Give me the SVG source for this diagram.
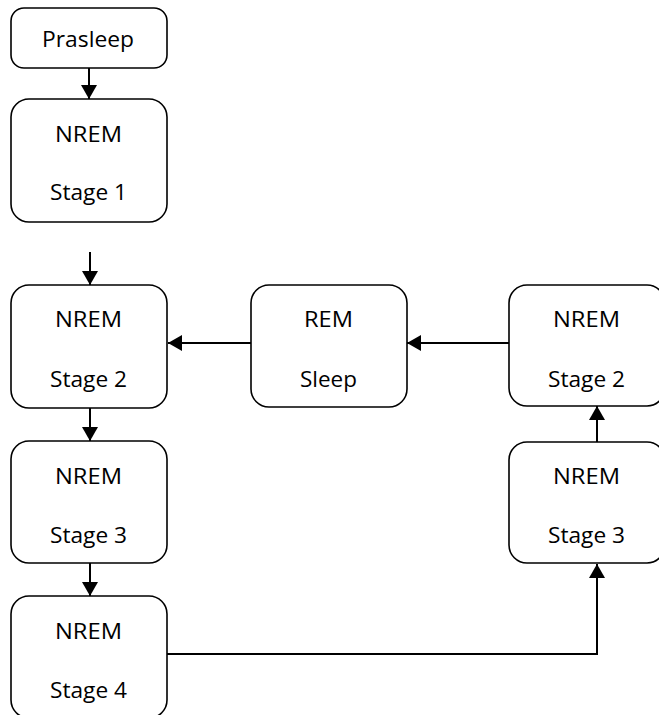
<svg xmlns="http://www.w3.org/2000/svg" width="659" height="715" viewBox="0 0 659 715">
<defs>
<style>
.box{fill:#fff;stroke:#000;stroke-width:1.6}
.t{font-family:"Open Sans","Liberation Sans",sans-serif;font-size:21.5px;fill:#000;text-anchor:middle}
.c{fill:none;stroke:#000;stroke-width:2}
</style>
<marker id="ah" markerUnits="userSpaceOnUse" markerWidth="16" markerHeight="16" viewBox="0 0 14 16" refX="14" refY="8" orient="auto">
<path d="M0,0 L14,8 L0,16 Z" fill="#000"/>
</marker>
</defs>
<rect width="659" height="715" fill="#fff"/>
<g id="connectors">
<line class="c" x1="89" y1="68" x2="89" y2="99" marker-end="url(#ah)"/>
<line class="c" x1="90" y1="252" x2="90" y2="285" marker-end="url(#ah)"/>
<line class="c" x1="90" y1="408" x2="90" y2="441" marker-end="url(#ah)"/>
<line class="c" x1="90" y1="563" x2="90" y2="596" marker-end="url(#ah)"/>
<line class="c" x1="251" y1="343" x2="168" y2="343" marker-end="url(#ah)"/>
<line class="c" x1="509" y1="343" x2="407" y2="343" marker-end="url(#ah)"/>
<line class="c" x1="597" y1="442" x2="597" y2="406" marker-end="url(#ah)"/>
<polyline class="c" points="167,654 597,654 597,564" marker-end="url(#ah)"/>
</g>
<g id="prasleep">
<rect class="box" x="11" y="8" width="156" height="60" rx="13"/>
<text class="t" x="88" y="47" textLength="92" lengthAdjust="spacingAndGlyphs">Prasleep</text>
</g>
<g id="nrem1">
<rect class="box" x="11" y="99" width="156" height="123" rx="18"/>
<text class="t" x="88.5" y="141.5" textLength="67" lengthAdjust="spacingAndGlyphs">NREM</text>
<text class="t" x="88.5" y="200" textLength="77" lengthAdjust="spacingAndGlyphs">Stage 1</text>
</g>
<g id="nrem2-left">
<rect class="box" x="11" y="285" width="156" height="123" rx="18"/>
<text class="t" x="88.5" y="327" textLength="67" lengthAdjust="spacingAndGlyphs">NREM</text>
<text class="t" x="88.5" y="386.5" textLength="77" lengthAdjust="spacingAndGlyphs">Stage 2</text>
</g>
<g id="nrem3-left">
<rect class="box" x="11" y="441" width="156" height="122" rx="18"/>
<text class="t" x="88.5" y="483.5" textLength="67" lengthAdjust="spacingAndGlyphs">NREM</text>
<text class="t" x="88.5" y="542.5" textLength="77" lengthAdjust="spacingAndGlyphs">Stage 3</text>
</g>
<g id="nrem4">
<rect class="box" x="11" y="596" width="156" height="122" rx="18"/>
<text class="t" x="88.5" y="638.5" textLength="67" lengthAdjust="spacingAndGlyphs">NREM</text>
<text class="t" x="88.5" y="697.5" textLength="77" lengthAdjust="spacingAndGlyphs">Stage 4</text>
</g>
<g id="rem">
<rect class="box" x="251" y="285" width="156" height="122" rx="18"/>
<text class="t" x="328.5" y="327" textLength="49" lengthAdjust="spacingAndGlyphs">REM</text>
<text class="t" x="328.5" y="386.5" textLength="57" lengthAdjust="spacingAndGlyphs">Sleep</text>
</g>
<g id="nrem2-right">
<rect class="box" x="509" y="285" width="156" height="121" rx="18"/>
<text class="t" x="586.5" y="327" textLength="67" lengthAdjust="spacingAndGlyphs">NREM</text>
<text class="t" x="586.5" y="386.5" textLength="77" lengthAdjust="spacingAndGlyphs">Stage 2</text>
</g>
<g id="nrem3-right">
<rect class="box" x="509" y="442" width="156" height="121" rx="18"/>
<text class="t" x="586.5" y="484" textLength="67" lengthAdjust="spacingAndGlyphs">NREM</text>
<text class="t" x="586.5" y="543" textLength="77" lengthAdjust="spacingAndGlyphs">Stage 3</text>
</g>
</svg>
